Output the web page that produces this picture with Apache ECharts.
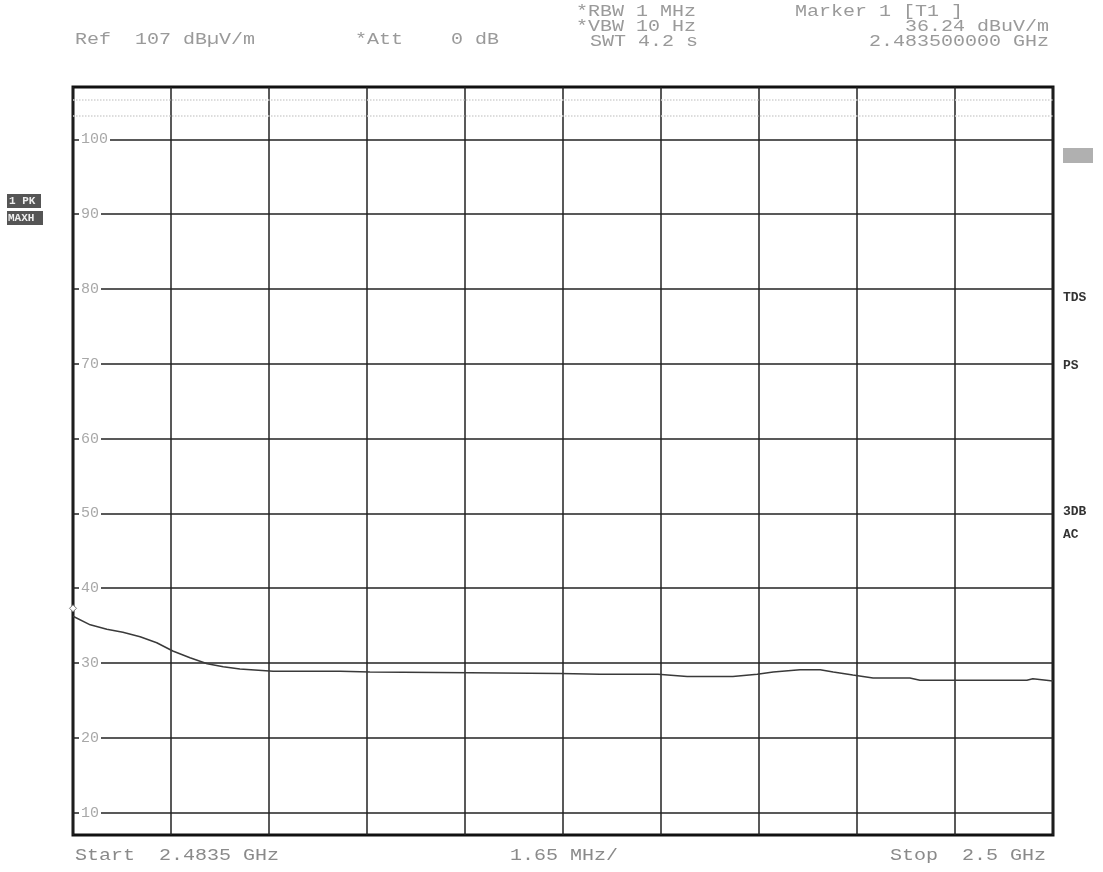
<!DOCTYPE html>
<html>
<head>
<meta charset="utf-8">
<script src="https://cdn.jsdelivr.net/npm/echarts@6/dist/echarts.min.js"></script>
<style>
html,body{margin:0;padding:0;background:#fff;}
#chart{width:1103px;height:872px;}
</style>
</head>
<body>
<div id="chart"></div>
<script>
// Frequency offset from start (MHz), start = 2.4835 GHz, 1.65 MHz/div
var freqOffsetMHz = [0, 0.29, 0.57, 0.84, 1.13, 1.41, 1.68, 1.97, 2.26, 2.53, 2.81, 3.37, 4.50, 5.00, 6.68, 8.20, 8.87, 9.85, 10.34, 11.11, 11.52, 11.79, 12.24, 12.58, 12.80, 13.13, 13.47, 14.09, 14.26, 15.05, 16.06, 16.16, 16.5];
var levelDbuV = [36.24, 35.1, 34.5, 34.1, 33.5, 32.7, 31.6, 30.7, 29.9, 29.5, 29.2, 28.9, 28.9, 28.8, 28.7, 28.6, 28.5, 28.5, 28.2, 28.2, 28.5, 28.8, 29.1, 29.1, 28.8, 28.4, 28.0, 28.0, 27.7, 27.7, 27.7, 27.9, 27.6];
var yTicks = [10, 20, 30, 40, 50, 60, 70, 80, 90, 100];
var refLevel = 107;
var spanMHz = 16.5;
var divMHz = 1.65;
var marker = { x: 0, y: 36.24 };
var faintLines = [105.3, 103.1];

var chart = echarts.init(document.getElementById('chart'));
var mono = '"Liberation Mono", "DejaVu Sans Mono", monospace';
var seriesData = freqOffsetMHz.map(function (f, i) { return [f, levelDbuV[i]]; });

function txt(x, y, s, opts) {
  opts = opts || {};
  var al = opts.align || 'left';
  return {
    type: 'text', x: x, y: y, silent: true, z: 20,
    scaleX: opts.scaleX || 1,
    style: {
      text: s, font: (opts.weight || 'normal') + ' ' + (opts.size || 16) + 'px ' + mono,
      fill: opts.color || '#9a9a9a',
      align: al, verticalAlign: 'middle', textAlign: al, textVerticalAlign: 'middle'
    }
  };
}
function htxt(x, y, s, opts) {
  opts = opts || {};
  opts.scaleX = 1.25;
  return txt(x, y, s, opts);
}

var gridLineStyle = { color: '#222', width: 1.5, type: 'solid' };

chart.setOption({
  animation: false,
  backgroundColor: '#fff',
  grid: { left: 73, top: 87, width: 980, height: 748, show: true, borderColor: '#111', borderWidth: 3, backgroundColor: 'transparent' },
  xAxis: {
    type: 'value', min: 0, max: spanMHz, interval: divMHz,
    axisLine: { show: false }, axisTick: { show: false }, axisLabel: { show: false },
    splitLine: { show: true, lineStyle: { color: '#222', width: 1.5 } }
  },
  yAxis: {
    type: 'value', min: refLevel - 100, max: refLevel, z: 10,
    axisLine: { show: false }, axisTick: { show: false },
    axisLabel: {
      inside: true, margin: 6, color: '#a8a8a8', fontFamily: mono, fontSize: 15,
      backgroundColor: '#fff', padding: [0, 2, 0, 2],
      customValues: yTicks
    },
    splitLine: { show: false }
  },
  series: [{
    type: 'line', data: seriesData, showSymbol: false, z: 5,
    lineStyle: { color: '#3a3a3a', width: 1.5 },
    markPoint: {
      symbol: 'diamond', symbolSize: 7, symbolOffset: [0, -8],
      itemStyle: { color: '#fff', borderColor: '#777', borderWidth: 1 },
      label: { show: false },
      data: [{ coord: [marker.x, marker.y] }]
    },
    markLine: {
      symbol: 'none', silent: true, label: { show: false }, z: 1,
      data: yTicks.map(function (v) { return { yAxis: v, lineStyle: gridLineStyle }; })
        .concat(faintLines.map(function (v) { return { yAxis: v, lineStyle: { color: '#d2d2d2', type: 'dotted', width: 1.5 } }; }))
    }
  }],
  graphic: [
    htxt(75, 40, 'Ref  107 dB\u00b5V/m'),
    htxt(355, 40, '*Att    0 dB'),
    htxt(576, 12, '*RBW 1 MHz'),
    htxt(576, 27, '*VBW 10 Hz'),
    htxt(590, 42, 'SWT 4.2 s'),
    htxt(795, 12, 'Marker 1 [T1 ]'),
    htxt(1049, 27, '36.24 dBuV/m', { align: 'right' }),
    htxt(1049, 42, '2.483500000 GHz', { align: 'right' }),
    htxt(75, 856, 'Start  2.4835 GHz', { color: '#8a8a8a' }),
    htxt(510, 856, '1.65 MHz/', { color: '#8a8a8a' }),
    htxt(1046, 856, 'Stop  2.5 GHz', { color: '#8a8a8a', align: 'right' }),
    { type: 'rect', x: 1063, y: 148, silent: true, shape: { width: 30, height: 15 }, style: { fill: '#b0b0b0' } },
    txt(1063, 298, 'TDS', { color: '#333', size: 13, weight: 'bold' }),
    txt(1063, 366, 'PS', { color: '#333', size: 13, weight: 'bold' }),
    txt(1063, 512, '3DB', { color: '#333', size: 13, weight: 'bold' }),
    txt(1063, 535, 'AC', { color: '#333', size: 13, weight: 'bold' }),
    { type: 'rect', x: 7, y: 194, silent: true, shape: { width: 34, height: 14 }, style: { fill: '#555' } },
    txt(9, 201, '1 PK', { color: '#eee', size: 11, weight: 'bold' }),
    { type: 'rect', x: 7, y: 211, silent: true, shape: { width: 36, height: 14 }, style: { fill: '#555' } },
    txt(8, 218, 'MAXH', { color: '#eee', size: 11, weight: 'bold' })
  ]
});
</script>
</body>
</html>
